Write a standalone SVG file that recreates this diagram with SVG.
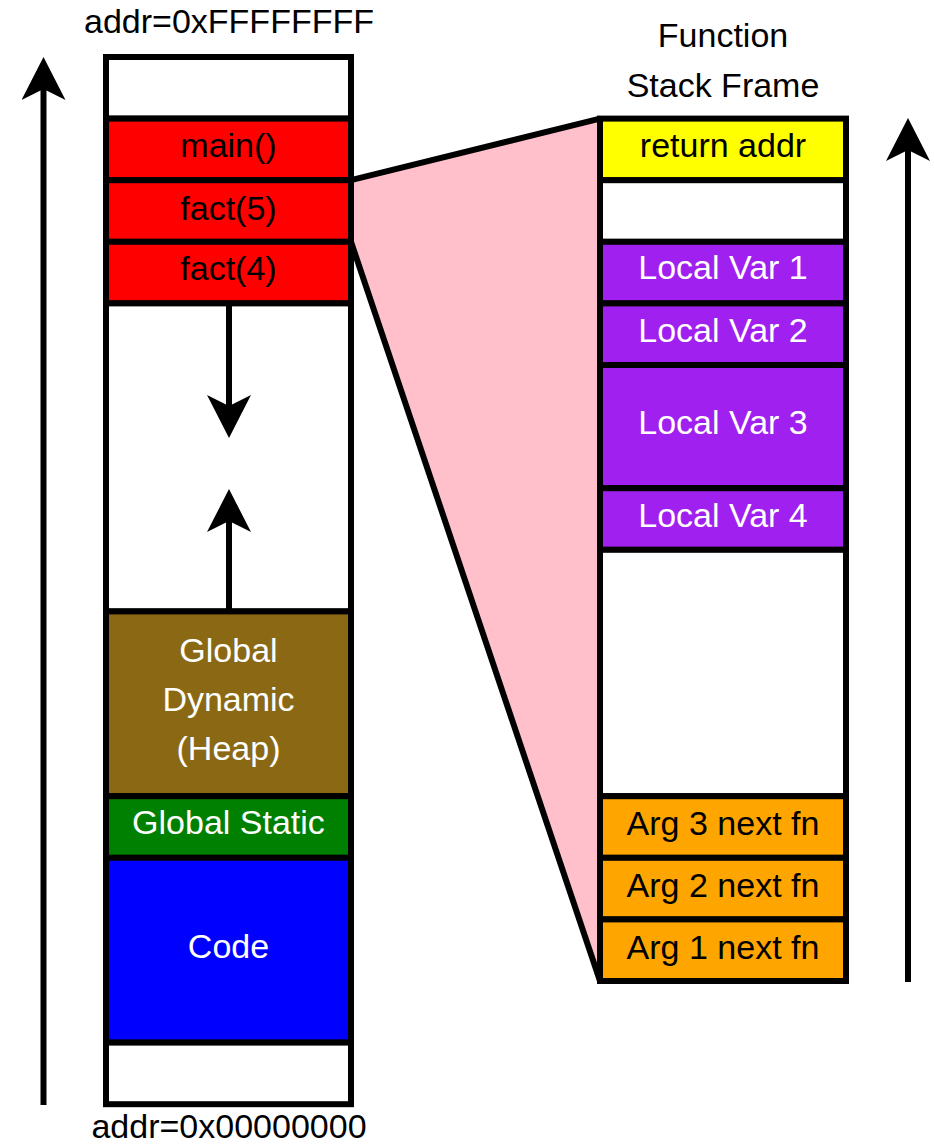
<svg xmlns="http://www.w3.org/2000/svg" width="934" height="1144" viewBox="0 0 934 1144">
<style>
.cell{stroke:#000;stroke-width:6}
.t{font-family:"Liberation Sans",Arial,sans-serif;font-size:34px;text-anchor:middle}
.b{fill:#000}
.w{fill:#fff}
.ln{stroke:#000;stroke-width:6;fill:none}
</style>
<defs>
<marker id="ah" markerUnits="userSpaceOnUse" markerWidth="44" markerHeight="44" viewBox="0 0 44 44" refX="11" refY="22" orient="auto">
<path d="M0,0 L43,22 L0,44 L11,22 Z" fill="#000"/>
</marker>
</defs>
<rect width="934" height="1144" fill="#fff"/>
<g id="zoom-wedge">
<polygon points="351,180.2 600,118.6 600,981 351,241.8" fill="#FFC0CB"/>
<line x1="351" y1="180.2" x2="600" y2="118.6" class="ln" stroke-width="5"/>
<line x1="351" y1="241.8" x2="600" y2="981" class="ln" stroke-width="5"/>
</g>
<g id="labels">
<text class="t b" x="229" y="33">addr=0xFFFFFFFF</text>
<text class="t b" x="229" y="1138">addr=0x00000000</text>
<text class="t b" x="723" y="47">Function</text>
<text class="t b" x="723" y="97">Stack Frame</text>
</g>
<g id="mem-top-free"><rect class="cell" x="106" y="57" width="245" height="61.6" fill="#fff"/></g>
<g id="mem-main"><rect class="cell" x="106" y="118.6" width="245" height="61.6" fill="#FF0000"/><text class="t b" x="228.5" y="157">main()</text></g>
<g id="mem-fact5"><rect class="cell" x="106" y="180.2" width="245" height="61.6" fill="#FF0000"/><text class="t b" x="228.5" y="220">fact(5)</text></g>
<g id="mem-fact4"><rect class="cell" x="106" y="241.8" width="245" height="61.6" fill="#FF0000"/><text class="t b" x="228.5" y="280">fact(4)</text></g>
<g id="mem-gap"><rect class="cell" x="106" y="303.4" width="245" height="308" fill="#fff"/></g>
<g id="mem-heap"><rect class="cell" x="106" y="611.4" width="245" height="184.8" fill="#8B6914"/>
<text class="t w" x="228.5" y="662">Global</text>
<text class="t w" x="228.5" y="711">Dynamic</text>
<text class="t w" x="228.5" y="760">(Heap)</text></g>
<g id="mem-static"><rect class="cell" x="106" y="796.2" width="245" height="61.6" fill="#008000"/><text class="t w" x="228.5" y="834">Global Static</text></g>
<g id="mem-code"><rect class="cell" x="106" y="857.8" width="245" height="184.8" fill="#0000FF"/><text class="t w" x="228.5" y="958">Code</text></g>
<g id="mem-bottom-free"><rect class="cell" x="106" y="1042.6" width="245" height="61.6" fill="#fff"/></g>
<g id="sf-return"><rect class="cell" x="600" y="118.6" width="246" height="61.6" fill="#FFFF00"/><text class="t b" x="723" y="157">return addr</text></g>
<g id="sf-free1"><rect class="cell" x="600" y="180.2" width="246" height="61.6" fill="#fff"/></g>
<g id="sf-lv1"><rect class="cell" x="600" y="241.8" width="246" height="61.6" fill="#A020F0"/><text class="t w" x="723" y="279">Local Var 1</text></g>
<g id="sf-lv2"><rect class="cell" x="600" y="303.4" width="246" height="61.6" fill="#A020F0"/><text class="t w" x="723" y="342">Local Var 2</text></g>
<g id="sf-lv3"><rect class="cell" x="600" y="365" width="246" height="123.2" fill="#A020F0"/><text class="t w" x="723" y="434">Local Var 3</text></g>
<g id="sf-lv4"><rect class="cell" x="600" y="488.2" width="246" height="61.6" fill="#A020F0"/><text class="t w" x="723" y="527">Local Var 4</text></g>
<g id="sf-free2"><rect class="cell" x="600" y="549.8" width="246" height="246.4" fill="#fff"/></g>
<g id="sf-arg3"><rect class="cell" x="600" y="796.2" width="246" height="61.6" fill="#FFA500"/><text class="t b" x="723" y="835">Arg 3 next fn</text></g>
<g id="sf-arg2"><rect class="cell" x="600" y="857.8" width="246" height="61.6" fill="#FFA500"/><text class="t b" x="723" y="897">Arg 2 next fn</text></g>
<g id="sf-arg1"><rect class="cell" x="600" y="919.4" width="246" height="61.6" fill="#FFA500"/><text class="t b" x="723" y="959">Arg 1 next fn</text></g>
<g id="connectors">
<line class="ln" x1="43.5" y1="1105" x2="43.5" y2="89" marker-end="url(#ah)"/>
<line class="ln" x1="908" y1="982" x2="908" y2="150" marker-end="url(#ah)"/>
<line class="ln" x1="229" y1="303.4" x2="229" y2="406" marker-end="url(#ah)"/>
<line class="ln" x1="229" y1="611.4" x2="229" y2="521" marker-end="url(#ah)"/>
</g>
</svg>
